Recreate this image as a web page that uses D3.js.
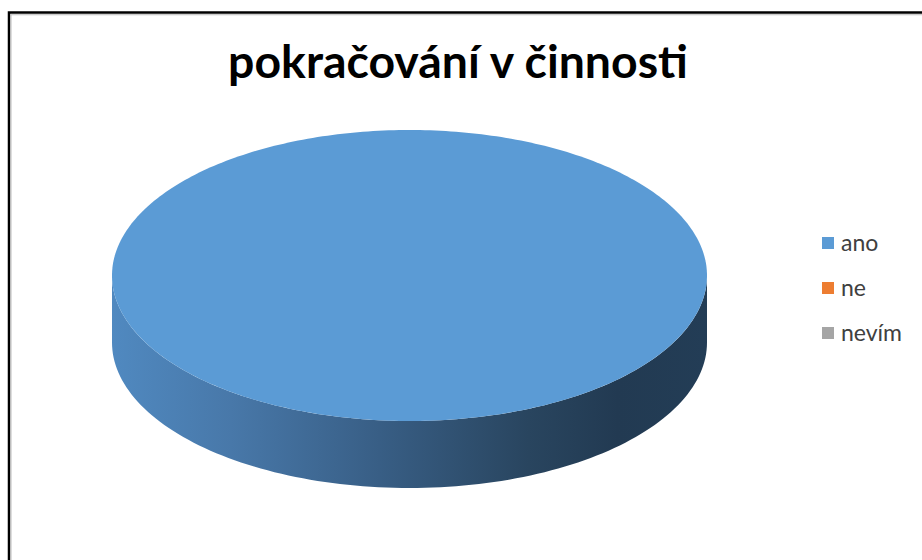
<!DOCTYPE html>
<html><head><meta charset="utf-8">
<script src="https://cdn.jsdelivr.net/npm/d3@7"></script>
<style>html,body{margin:0;padding:0;background:#fff;}svg{display:block;}</style>
</head><body>
<script>
const title = "pokračování v činnosti";
const categories = ["ano", "ne", "nevím"];
const values = [100, 0, 0];
const colors = ["#5B9BD5", "#ED7D31", "#A5A5A5"];

const W = 922, H = 560;
const svg = d3.select("body").append("svg").attr("width", W).attr("height", H);

// frame
svg.append("rect").attr("x", 9).attr("y", 12.5).attr("width", 940).attr("height", 600)
  .attr("fill", "#fff").attr("stroke", "#000").attr("stroke-width", 2.5);
svg.append("path").attr("d", "M11,560V14.75H922").attr("fill", "none").attr("stroke", "#bbb").attr("stroke-width", 1);

// title
const t = svg.append("text").attr("x", 458).attr("y", 78).attr("text-anchor", "middle")
  .attr("font-family", "Lato, 'Open Sans', sans-serif").attr("font-weight", "bold")
  .attr("font-size", 40).attr("fill", "#000").text(title);
const tw = t.node().getComputedTextLength();
t.attr("font-size", 40 * 460 / tw);

// 3D pie
const cx = 409.5, cy = 275.5, rx = 297.5, ry = 145.5, depth = 67;
const defs = svg.append("defs");
const grad = defs.append("linearGradient").attr("id", "side").attr("gradientUnits", "userSpaceOnUse")
  .attr("x1", cx - rx).attr("x2", cx + rx).attr("y1", 0).attr("y2", 0);
[[0, "#5089c0"], [0.2, "#4878a9"], [0.45, "#385e85"], [0.7, "#29455f"], [0.85, "#223a52"], [1, "#233d56"]]
  .forEach(([o, c]) => grad.append("stop").attr("offset", o).attr("stop-color", c));

const pie = d3.pie().sort(null).value(d => d).startAngle(0).endAngle(2 * Math.PI);
const arcs = pie(values);

function shade(c, k) { return d3.color(c).darker(k); }
// Convert pie angle (0 at top, clockwise) to ellipse param angle (0 at right, clockwise in screen)
const toT = a => a - Math.PI / 2;
const pt = (th, dy = 0) => [cx + rx * Math.cos(th), cy + ry * Math.sin(th) + dy];

function arcPts(t0, t1, dy, n) {
  const p = [];
  for (let i = 0; i <= n; i++) { const th = t0 + (t1 - t0) * i / n; p.push(pt(th, dy)); }
  return p;
}

const g = svg.append("g");
// side walls (front half: param angles in [0, PI] modulo 2PI)
arcs.forEach((a, i) => {
  if (a.endAngle - a.startAngle <= 0) return;
  let t0 = toT(a.startAngle), t1 = toT(a.endAngle);
  // intersect [t0,t1] with [0,PI] and [2PI,3PI]
  [[0, Math.PI], [2 * Math.PI, 3 * Math.PI], [-2 * Math.PI, -Math.PI]].forEach(([lo, hi]) => {
    const s = Math.max(t0, lo), e = Math.min(t1, hi);
    if (e <= s) return;
    const top = arcPts(s, e, 0, 120);
    const bot = arcPts(e, s, depth, 120);
    g.append("path").attr("d", d3.line()(top.concat(bot)) + "Z")
      .attr("fill", i === 0 ? "url(#side)" : shade(colors[i], 1.2));
  });
});
// top faces
arcs.forEach((a, i) => {
  if (a.endAngle - a.startAngle <= 0) return;
  const t0 = toT(a.startAngle), t1 = toT(a.endAngle);
  const full = a.endAngle - a.startAngle >= 2 * Math.PI - 1e-9;
  const p = arcPts(t0, t1, 0, 360);
  if (!full) p.push([cx, cy]);
  g.append("path").attr("d", d3.line()(p) + "Z").attr("fill", colors[i]);
});

// legend
const lg = svg.append("g");
const ly = d3.scalePoint().domain(categories).range([243, 333]);
categories.forEach((c, i) => {
  lg.append("rect").attr("x", 822).attr("y", ly(c) - 6).attr("width", 12).attr("height", 12).attr("fill", colors[i]);
  lg.append("text").attr("x", 841).attr("y", ly(c) + 8).attr("font-family", "Lato, 'Open Sans', sans-serif")
    .attr("font-size", 23).attr("fill", "#404040").text(c);
});
</script>
</body></html>
